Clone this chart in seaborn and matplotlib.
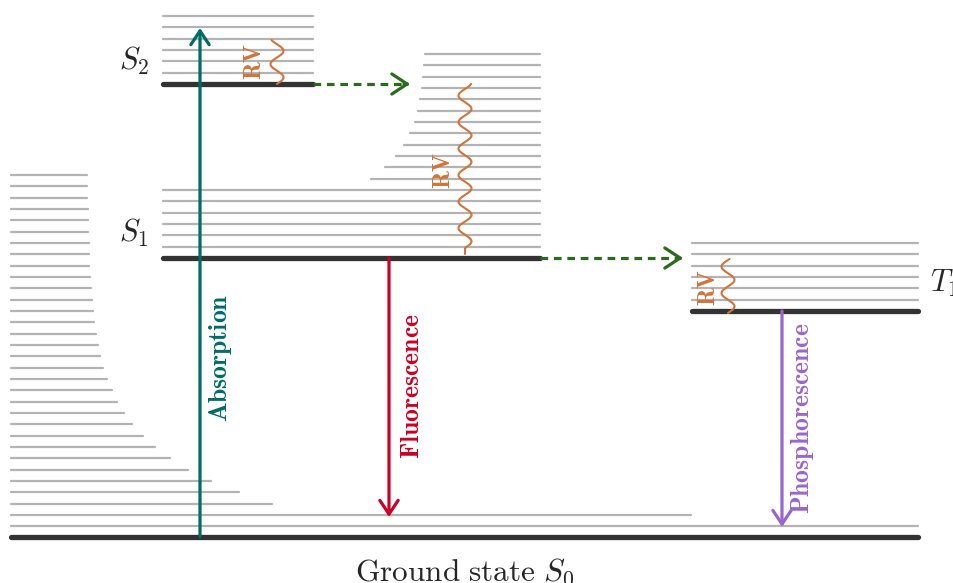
import numpy as np
import pandas as pd
import matplotlib.pyplot as plt
import seaborn as sns

sns.set_style('white')
plt.rcParams['mathtext.fontset'] = 'cm'

# Level geometry (picture coordinates, y grows downwards)
ground_y = 537
ground_x = (11, 918)
s0_vib_y = [526, 515, 504, 492, 481, 470, 458, 447, 436, 424, 413, 402, 390, 379, 368, 356,
            345, 334, 322, 311, 300, 288, 277, 266, 254, 243, 232, 220, 209, 198, 186, 175]
s0_vib_xend = [918, 691, 272, 239, 211, 188, 170, 155, 143, 132, 124, 117, 112, 107, 103, 100,
               98, 96, 94, 93, 92, 91, 90, 89.3, 89, 88.7, 88.3, 88, 87.7, 87.3, 87.3, 87.3]

s1_y = 258
s1_x = (163, 540)
s1_vib_y = [247, 235, 224, 213, 201, 190, 179, 167, 156, 145, 133, 122, 111, 99, 88, 77, 65, 54]
s1_vib_xstart = [163, 163, 163, 163, 163, 163, 371, 385, 396, 404, 410, 415, 418, 420, 422, 423, 424, 425]

s2_y = 84
s2_x = (163, 313)
s2_vib_y = [73, 61, 50, 39, 27, 16]

t1_y = 311
t1_x = (692, 918)
t1_vib_y = [300, 288, 277, 266, 254, 243]

# Transitions: x, start y, end y
absorption = (200, 537, 28)
fluorescence = (389, 258, 517)
phosphorescence = (782, 311, 527)
isc_arrows = [(313, 410, 84), (540, 683, 258)]
# Vibrational relaxation squiggles: x centre, top y, bottom y
rv_waves = [(277, 40, 84), (465, 84, 254), (728, 259, 313)]
rv_text = [(254, 61), (443, 170), (708, 287)]

teal = '#006c66'
red = '#cc0022'
purple = '#9966cc'
green = '#2a6b1f'
orange = '#d2733a'
gray = '#b3b3b3'
dark = '#333333'

fig = plt.figure(figsize=(9.54, 5.83), dpi=100)
ax = fig.add_axes([0, 0, 1, 1])

# vibrational levels as segments
segs = []
for i, (y, xe) in enumerate(zip(s0_vib_y, s0_vib_xend)):
    segs += [('s0_%d' % i, ground_x[0], y), ('s0_%d' % i, xe, y)]
for i, (y, xs) in enumerate(zip(s1_vib_y, s1_vib_xstart)):
    segs += [('s1_%d' % i, xs, y), ('s1_%d' % i, s1_x[1], y)]
for i, y in enumerate(s2_vib_y):
    segs += [('s2_%d' % i, s2_x[0], y), ('s2_%d' % i, s2_x[1], y)]
for i, y in enumerate(t1_vib_y):
    segs += [('t1_%d' % i, t1_x[0], y), ('t1_%d' % i, t1_x[1], y)]
vib = pd.DataFrame(segs, columns=['seg', 'x', 'y'])
sns.lineplot(data=vib, x='x', y='y', units='seg', estimator=None, sort=False,
             color=gray, lw=1.6, ax=ax, legend=False)

# electronic levels
elec = pd.DataFrame({'seg': ['s0', 's0', 's1', 's1', 's2', 's2', 't1', 't1'],
                     'x': [*ground_x, *s1_x, *s2_x, *t1_x],
                     'y': [ground_y, ground_y, s1_y, s1_y, s2_y, s2_y, t1_y, t1_y]})
sns.lineplot(data=elec, x='x', y='y', units='seg', estimator=None, sort=False,
             color=dark, lw=3.8, ax=ax, legend=False)
ax.set_xlim(0, 954)
ax.set_ylim(583, 0)
ax.axis('off')

# radiative transitions
for (x, y0, y1), c in [(absorption, teal), (fluorescence, red), (phosphorescence, purple)]:
    ax.annotate('', xy=(x, y1), xytext=(x, y0),
                arrowprops=dict(arrowstyle='->,head_length=0.45,head_width=0.3', color=c,
                                lw=2.3, shrinkA=0, shrinkB=0, mutation_scale=22))

# intersystem / internal conversion (dashed)
for x0, x1, y in isc_arrows:
    ax.plot([x0, x1 - 2], [y, y], color=green, lw=2.3, dashes=(2.4, 1.8))
    ax.annotate('', xy=(x1, y), xytext=(x1 - 6, y),
                arrowprops=dict(arrowstyle='->,head_length=0.5,head_width=0.33', color=green,
                                lw=2.3, shrinkA=0, shrinkB=0, mutation_scale=22))

# vibrational relaxation
for xc, ytop, ybot in rv_waves:
    yy = np.linspace(ybot, ytop, 300)
    tail = 6 if ybot - ytop > 100 else 0
    xx = xc + np.where(ybot - yy > tail, 6.5 * np.sin(2 * np.pi * (ybot - yy - tail) / 26.5), 0)
    ax.plot(xx, yy, color=orange, lw=1.5)
for x, y in rv_text:
    ax.text(x, y, r'$\mathbf{RV}$', color=orange, rotation=90, ha='center', va='center', fontsize=17)

ax.text(221, 358, r'$\mathbf{Absorption}$', color=teal, rotation=90, ha='center', va='center', fontsize=18.5)
ax.text(412, 386, r'$\mathbf{Fluorescence}$', color=red, rotation=90, ha='center', va='center', fontsize=18.5)
ax.text(803, 418, r'$\mathbf{Phosphorescence}$', color=purple, rotation=90, ha='center', va='center', fontsize=18.5)

ax.text(149, 61, r'$S_2$', ha='right', va='center', fontsize=22)
ax.text(149, 233, r'$S_1$', ha='right', va='center', fontsize=22)
ax.text(930, 283, r'$T_1$', ha='left', va='center', fontsize=22)
ax.text(465, 556, r'$\mathrm{Ground\ state}\ S_0$', ha='center', va='top', fontsize=22.5)

fig.savefig('out.png', dpi=100)
